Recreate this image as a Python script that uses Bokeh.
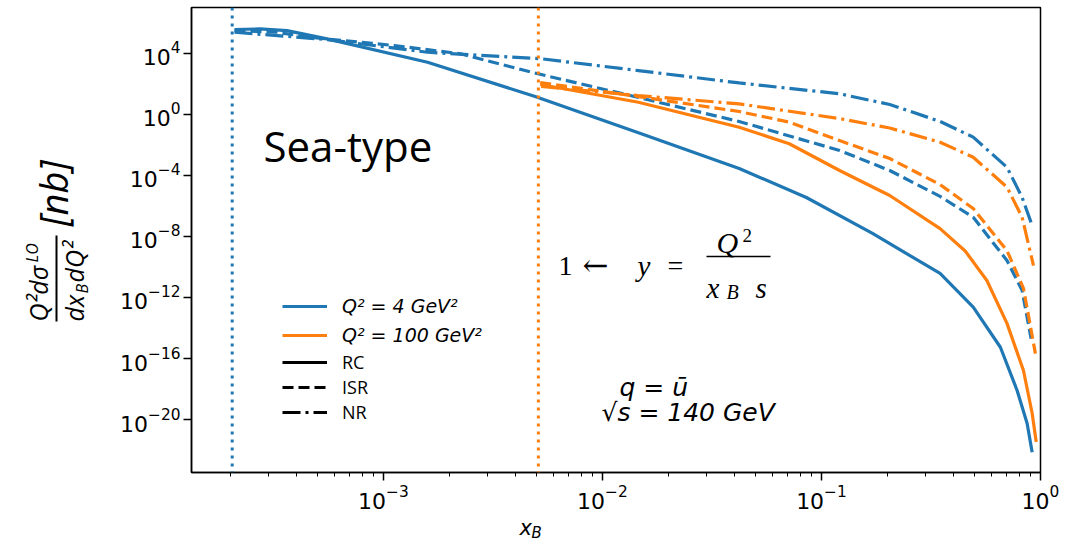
from bokeh.plotting import figure
from bokeh.layouts import row, column
from bokeh.models import (Range1d, FixedTicker, Span, Label, Legend, LegendItem,
                          BoxAnnotation)
from bokeh.embed import file_html
from bokeh.resources import INLINE

BLUE = "#1f77b4"
ORANGE = "#ff7f0e"

# ---- data (x_B, Q^2 dsigma/dx_B dQ^2 [nb]) ----
# Q^2 = 4 GeV^2
x_rc_q4 = [2.09e-4, 2.73e-4, 3.63e-4, 5.53e-4, 1.59e-3, 4.93e-3, 0.0146, 0.0421,
           0.0853, 0.171, 0.348, 0.493, 0.656, 0.782, 0.869, 0.916]
y_rc_q4 = [3.47e5, 3.80e5, 2.95e5, 8.5e4, 2.5e3, 14.1, 6.0e-2, 2.75e-4,
           3.5e-6, 1.55e-8, 3.7e-11, 2.3e-13, 5.5e-16, 8.1e-19, 5.6e-21, 7.4e-23]
x_isr_q4 = [2.09e-4, 3.27e-4, 4.62e-4, 1.12e-3, 2.25e-3, 5.08e-3, 0.0146, 0.0421,
            0.121, 0.205, 0.348, 0.493, 0.703, 0.824, 0.906]
y_isr_q4 = [2.95e5, 2.29e5, 1.07e5, 3.1e4, 8.9e3, 437, 12.3, 0.33,
            4.2e-3, 2.04e-4, 4.1e-6, 1.78e-7, 2.6e-10, 2.9e-12, 2.0e-15]
x_nr_q4 = [2.09e-4, 5.53e-4, 1.59e-3, 5.25e-3, 0.0146, 0.0421, 0.121, 0.205, 0.348,
           0.493, 0.703, 0.824, 0.916]
y_nr_q4 = [2.29e5, 7.6e4, 1.12e4, 4.2e3, 708, 110, 21.4, 4.3, 0.33,
           3.1e-2, 3.3e-4, 3.6e-6, 5.1e-8]
# Q^2 = 100 GeV^2
x_rc_q100 = [5.20e-3, 0.0146, 0.0421, 0.0713, 0.121, 0.205, 0.348, 0.453, 0.569,
             0.703, 0.836, 0.916, 0.956]
y_rc_q100 = [87, 6.0, 0.138, 1.15e-2, 2.04e-4, 4.7e-6, 3.2e-8, 1.1e-9, 1.29e-11,
             2.0e-14, 1.66e-17, 2.6e-20, 3.4e-22]
x_isr_q100 = [5.20e-3, 0.0146, 0.0421, 0.0713, 0.121, 0.205, 0.348, 0.493, 0.703,
              0.836, 0.948]
y_isr_q100 = [117, 14.1, 1.48, 0.30, 1.86e-2, 1.24e-3, 2.45e-5, 6.6e-7, 1.17e-9,
              3.9e-12, 2.1e-16]
x_nr_q100 = [5.25e-3, 0.0146, 0.0421, 0.121, 0.205, 0.348, 0.493, 0.703, 0.824, 0.929]
y_nr_q100 = [65, 16.6, 4.7, 0.51, 0.123, 1.45e-2, 1.5e-3, 1.66e-5, 1.78e-7, 1.23e-10]

# y = 1 thresholds x_B = Q^2 / s
vline_x = [2.04e-4, 5.1e-3]

y_ticks = [1e4, 1e0, 1e-4, 1e-8, 1e-12, 1e-16, 1e-20]
x_ticks = [1e-3, 1e-2, 1e-1, 1e0]
x_minor = [k * 10.0 ** e for e in range(-4, 0) for k in range(2, 10)]

series_labels = ["RC", "ISR", "NR"]
q2_labels = ["Q² = 4 GeV²", "Q² = 100 GeV²"]

DASH = "11 5"
DASHDOT = "18 5 3 5"
LW = 3.2
LEFT_W = 100
MAIN_H = 518
OVERLAP = 12

p = figure(width=1084 - LEFT_W, height=MAIN_H, x_axis_type="log", y_axis_type="log",
           x_range=Range1d(1.33e-4, 1.0), y_range=Range1d(10 ** -23.46, 10 ** 6.98),
           output_backend="svg", toolbar_location=None,
           min_border_left=191 - LEFT_W, min_border_right=44, min_border_top=7,
           min_border_bottom=MAIN_H - 472)
p.xgrid.visible = False
p.ygrid.visible = False
p.outline_line_color = "black"
p.outline_line_width = 1.5
p.outline_line_alpha = 1.0
p.background_fill_color = "white"
p.border_fill_color = "white"

p.yaxis.ticker = FixedTicker(ticks=y_ticks, minor_ticks=[])
p.xaxis.ticker = FixedTicker(ticks=x_ticks, minor_ticks=x_minor)
for ax in (p.xaxis[0], p.yaxis[0]):
    ax.axis_line_width = 1.5
    ax.axis_line_color = "black"
    ax.major_tick_line_width = 1.5
    ax.major_tick_line_color = "black"
    ax.minor_tick_line_color = "black"
    ax.minor_tick_line_width = 1
    ax.major_tick_in = 0
    ax.major_tick_out = 8
    ax.minor_tick_in = 0
    ax.minor_tick_out = 4
    ax.major_label_text_font = "DejaVu Sans"
    ax.major_label_text_font_size = "22px"
    ax.major_label_text_color = "black"
p.yaxis.major_label_standoff = 3
p.xaxis.major_label_standoff = 4

for xv, col in zip(vline_x, [BLUE, ORANGE]):
    p.add_layout(Span(location=xv, dimension="height", line_color=col,
                      line_width=3, line_dash="3 5"))

r_rc4 = p.line(x_rc_q4, y_rc_q4, line_color=BLUE, line_width=LW)
p.line(x_isr_q4, y_isr_q4, line_color=BLUE, line_width=LW, line_dash=DASH)
p.line(x_nr_q4, y_nr_q4, line_color=BLUE, line_width=LW, line_dash=DASHDOT)
r_rc100 = p.line(x_rc_q100, y_rc_q100, line_color=ORANGE, line_width=LW)
p.line(x_isr_q100, y_isr_q100, line_color=ORANGE, line_width=LW, line_dash=DASH)
p.line(x_nr_q100, y_nr_q100, line_color=ORANGE, line_width=LW, line_dash=DASHDOT)

# legend-only black samples (hidden renderers, shown only as legend glyphs)
k_rc = p.line(x_rc_q4, y_rc_q4, line_color="black", line_width=LW, visible=False)
k_isr = p.line(x_isr_q4, y_isr_q4, line_color="black", line_width=LW,
               line_dash=DASH, visible=False)
k_nr = p.line(x_nr_q4, y_nr_q4, line_color="black", line_width=LW,
              line_dash=DASHDOT, visible=False)

leg1 = Legend(items=[LegendItem(label=q2_labels[0], renderers=[r_rc4]),
                     LegendItem(label=q2_labels[1], renderers=[r_rc100])],
              location=(91, 126), padding=0, margin=0, spacing=7,
              glyph_width=45, glyph_height=20, label_height=20, label_standoff=15,
              label_text_font="DejaVu Sans", label_text_font_style="italic",
              label_text_font_size="19px", label_text_color="black",
              border_line_alpha=0, background_fill_alpha=0,
              inactive_fill_alpha=0)
leg2 = Legend(items=[LegendItem(label=series_labels[0], renderers=[k_rc]),
                     LegendItem(label=series_labels[1], renderers=[k_isr]),
                     LegendItem(label=series_labels[2], renderers=[k_nr])],
              location=(91, 48), padding=0, margin=0, spacing=1,
              glyph_width=45, glyph_height=22, label_height=22, label_standoff=15,
              label_text_font="Open Sans", label_text_font_size="18px",
              label_text_color="black",
              border_line_alpha=0, background_fill_alpha=0,
              inactive_fill_alpha=0)
p.add_layout(leg1)
p.add_layout(leg2)


def lab(fig, text, x, y, font="DejaVu Sans", size="20px", style="normal",
        align="left", baseline="alphabetic", angle=0):
    fig.add_layout(Label(x=x, y=y, x_units="screen", y_units="screen", text=text,
                         text_font=font, text_font_size=size, text_font_style=style,
                         text_align=align, text_baseline=baseline, angle=angle,
                         angle_units="deg", text_color="black"))


def hbar(fig, left, right, bottom, top):
    fig.add_layout(BoxAnnotation(left=left, right=right, bottom=bottom, top=top,
                                 left_units="screen", right_units="screen",
                                 top_units="screen", bottom_units="screen",
                                 fill_color="black", fill_alpha=1, line_alpha=0))


# Sea-type
lab(p, "Sea-type", 72, 327, font="Open Sans", size="42px")

# 1 <- y = Q^2/(x_B s)
SER = "Liberation Serif"
lab(p, "1", 367, 207, font=SER, size="28px")
lab(p, "←", 391, 208, font="DejaVu Serif", size="31px")
lab(p, "y", 446, 207, font=SER, size="29px", style="italic")
lab(p, "=", 476, 207, font=SER, size="28px")
lab(p, "Q", 525, 230, font=SER, size="30px", style="italic")
lab(p, "2", 551, 237, font=SER, size="19px")
hbar(p, 515, 579, 215.3, 216.7)
lab(p, "x", 515, 185, font=SER, size="29px", style="italic")
lab(p, "B", 535, 181, font=SER, size="20px", style="italic")
lab(p, "s", 564, 185, font=SER, size="29px", style="italic")

# q = u-bar, sqrt(s)
lab(p, "q = ū", 428, 85, size="25px", style="italic")
lab(p, "√s = 140 GeV", 410, 60, size="25px", style="italic")

# ---- left strip with the rotated y-axis label ----
H = 542
yl = figure(width=LEFT_W, height=H, x_range=Range1d(0, LEFT_W), y_range=Range1d(0, H),
            output_backend="svg", toolbar_location=None,
            x_axis_location=None, y_axis_location=None,
            min_border_left=0, min_border_right=0, min_border_top=0,
            min_border_bottom=0)
yl.outline_line_color = None
yl.xgrid.visible = False
yl.ygrid.visible = False
OS = "Open Sans"
lab(yl, "Q²dσ", 37, H - 321, font=OS, size="25px", style="italic",
    baseline="middle", angle=90)
lab(yl, "LO", 31, H - 262, font=OS, size="16px", style="italic",
    baseline="middle", angle=90)
hbar(yl, 55, 57, H - 321, H - 235)
lab(yl, "dx", 73, H - 321, font=OS, size="25px", style="italic", baseline="middle", angle=90)
lab(yl, "B", 81, H - 293, font=OS, size="16px", style="italic", baseline="middle", angle=90)
lab(yl, "dQ²", 73, H - 282, font=OS, size="25px", style="italic", baseline="middle", angle=90)
lab(yl, "[nb]", 52, H - 193, font=OS, size="38px", style="italic", align="center",
    baseline="middle", angle=90)

# ---- bottom strip (transparent, slightly overlapping) with the x-axis label ----
BH = H - MAIN_H + OVERLAP
xl = figure(width=1084 - LEFT_W, height=BH, x_range=Range1d(0, 1084 - LEFT_W),
            y_range=Range1d(0, BH), output_backend="svg", toolbar_location=None,
            x_axis_location=None, y_axis_location=None,
            min_border_left=0, min_border_right=0, min_border_top=0,
            min_border_bottom=0, margin=(-OVERLAP, 0, 0, 0))
xl.outline_line_color = None
xl.background_fill_alpha = 0
xl.border_fill_alpha = 0
xl.xgrid.visible = False
xl.ygrid.visible = False
lab(xl, "x", 428 - LEFT_W, H - 527, size="21px", style="italic")
lab(xl, "B", 440 - LEFT_W, H - 532, size="15px", style="italic")

layout = row(yl, column(p, xl))
open("out.html", "w").write(file_html(layout, INLINE))
